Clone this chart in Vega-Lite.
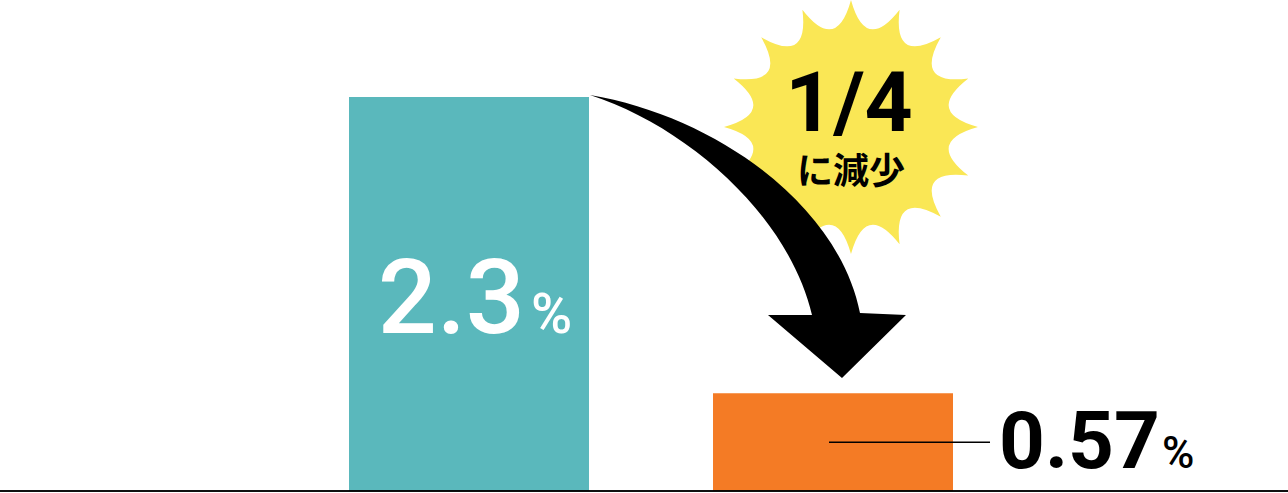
{
  "$schema": "https://vega.github.io/schema/vega-lite/v6.json",
  "width": 1288,
  "height": 493,
  "padding": 0,
  "autosize": {"type": "none"},
  "view": {"stroke": null},
  "data": {
    "values": [
      {"period": "before", "rate": 2.3, "label": "2.3"},
      {"period": "after", "rate": 0.57, "label": "0.57"}
    ]
  },
  "layer": [
    {
      "mark": {"type": "bar", "opacity": 1},
      "encoding": {
        "x": {"field": "period", "type": "nominal", "axis": null,
          "scale": {"domain": ["before", "after"], "range": [349, 953], "paddingInner": 0.3407, "paddingOuter": 0}},
        "y": {"field": "rate", "type": "quantitative", "axis": null,
          "scale": {"domain": [0, 2.3], "range": [491, 97], "nice": false, "zero": true}},
        "color": {"field": "period", "type": "nominal", "legend": null,
          "scale": {"domain": ["before", "after"], "range": ["#5AB8BC", "#F47B25"]}}
      }
    },
    {
      "mark": {"type": "point", "filled": true, "size": 4, "strokeWidth": 0, "color": "#FAE755",
        "shape": "M382,-97 Q396.6,-43.6 430.6,-87.3 Q423.7,-32.4 471.8,-59.8 Q444.4,-11.7 499.3,-18.6 Q455.6,15.4 509,30 Q455.6,44.6 499.3,78.6 Q444.4,71.7 471.8,119.8 Q423.7,92.4 430.6,147.3 Q396.6,103.6 382,157 Q367.4,103.6 333.4,147.3 Q340.3,92.4 292.2,119.8 Q319.6,71.7 264.7,78.6 Q308.4,44.6 255,30 Q308.4,15.4 264.7,-18.6 Q319.6,-11.7 292.2,-59.8 Q340.3,-32.4 333.4,-87.3 Q367.4,-43.6 382,-97 Z"},
      "encoding": {
        "x": {"field": "period", "type": "nominal"},
        "y": {"field": "rate", "type": "quantitative"},
        "opacity": {"condition": {"test": "datum.period === 'before'", "value": 1}, "value": 0}
      }
    },
    {
      "mark": {"type": "rule", "color": "#000000", "strokeWidth": 1.5},
      "encoding": {"y": {"datum": 0, "type": "quantitative"}}
    },
    {
      "mark": {"type": "point", "filled": true, "size": 4, "strokeWidth": 0, "color": "#000000",
        "shape": "M121,-2 C250,20 370,110 391,216 L437,218 L373,281 L299,218 L343,218 C320,120 220,30 121,-2 Z"},
      "encoding": {
        "x": {"field": "period", "type": "nominal"},
        "y": {"field": "rate", "type": "quantitative"},
        "opacity": {"condition": {"test": "datum.period === 'before'", "value": 1}, "value": 0}
      }
    },
    {
      "mark": {"type": "point", "filled": false, "size": 4, "strokeWidth": 1.5, "color": "#000000",
        "shape": "M-4,49 L157,49"},
      "encoding": {
        "x": {"field": "period", "type": "nominal"},
        "y": {"field": "rate", "type": "quantitative"},
        "opacity": {"condition": {"test": "datum.period === 'after'", "value": 1}, "value": 0}
      }
    },
    {
      "mark": {"type": "text", "color": "#FFFFFF", "font": "Roboto", "fontSize": 104, "fontWeight": 500, "align": "right", "baseline": "alphabetic", "dx": 56, "dy": 236},
      "encoding": {
        "x": {"field": "period", "type": "nominal"},
        "y": {"field": "rate", "type": "quantitative"},
        "text": {"condition": {"test": "datum.period === 'before'", "field": "label"}, "value": ""}
      }
    },
    {
      "mark": {"type": "text", "color": "#FFFFFF", "font": "Roboto", "fontSize": 56, "fontWeight": 500, "align": "left", "baseline": "alphabetic", "dx": 62, "dy": 236},
      "encoding": {
        "x": {"field": "period", "type": "nominal"},
        "y": {"field": "rate", "type": "quantitative"},
        "text": {"condition": {"test": "datum.period === 'before'", "value": "%"}, "value": ""}
      }
    },
    {
      "mark": {"type": "text", "color": "#000000", "font": "Roboto", "fontSize": 80, "fontWeight": "bold", "align": "left", "baseline": "alphabetic", "dx": 166, "dy": 75},
      "encoding": {
        "x": {"field": "period", "type": "nominal"},
        "y": {"field": "rate", "type": "quantitative"},
        "text": {"condition": {"test": "datum.period === 'after'", "field": "label"}, "value": ""}
      }
    },
    {
      "mark": {"type": "text", "color": "#000000", "font": "Roboto", "fontSize": 44, "fontWeight": 500, "align": "left", "baseline": "alphabetic", "dx": 329, "dy": 75},
      "encoding": {
        "x": {"field": "period", "type": "nominal"},
        "y": {"field": "rate", "type": "quantitative"},
        "text": {"condition": {"test": "datum.period === 'after'", "value": "%"}, "value": ""}
      }
    },
    {
      "mark": {"type": "text", "color": "#000000", "font": "Roboto", "fontSize": 84, "fontWeight": "bold", "align": "center", "baseline": "alphabetic", "dx": 16, "dy": -262},
      "encoding": {
        "x": {"field": "period", "type": "nominal"},
        "y": {"field": "rate", "type": "quantitative"},
        "text": {"condition": {"test": "datum.period === 'after'", "value": "1/4"}, "value": ""}
      }
    },
    {
      "mark": {"type": "text", "color": "#000000", "font": "Noto Sans CJK JP", "fontSize": 36, "fontWeight": "bold", "align": "center", "baseline": "alphabetic", "dx": 18, "dy": -209},
      "encoding": {
        "x": {"field": "period", "type": "nominal"},
        "y": {"field": "rate", "type": "quantitative"},
        "text": {"condition": {"test": "datum.period === 'after'", "value": "に減少"}, "value": ""}
      }
    }
  ]
}
